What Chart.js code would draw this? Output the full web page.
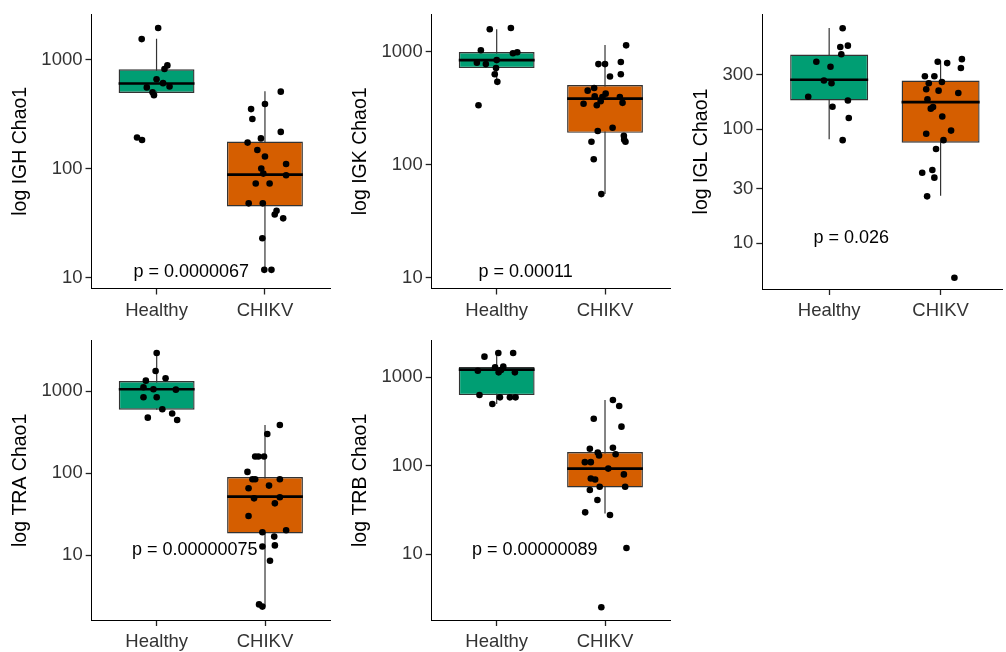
<!DOCTYPE html>
<html>
<head>
<meta charset="utf-8">
<script src="https://cdn.jsdelivr.net/npm/chart.js@4.4.1/dist/chart.umd.min.js"></script>
<style>
  html, body { margin: 0; padding: 0; background: #fff; }
  body { width: 1006px; height: 652px; position: relative; overflow: hidden; }
  canvas { position: absolute; }
</style>
</head>
<body>
<canvas id="igh" width="340" height="320" style="left:0;top:0"></canvas>
<canvas id="igk" width="340" height="320" style="left:340px;top:0"></canvas>
<canvas id="igl" width="336" height="320" style="left:670px;top:0"></canvas>
<canvas id="tra" width="340" height="332" style="left:0;top:320px"></canvas>
<canvas id="trb" width="340" height="332" style="left:340px;top:320px"></canvas>
<script>
const groups = ['Healthy', 'CHIKV'];
const groupColors = ['#009E73', '#D55E00'];

// box stats per group: [lower whisker, Q1, median, Q3, upper whisker]
// points: values + horizontal jitter (offset from the group centre, in category units)

// IGH
const ighBox = [[470, 493, 603, 812, 1549], [11.8, 45, 88, 177, 511]];
const ighHealthy = [1945, 1538, 883, 818, 659, 555, 607, 566, 500, 470, 193, 183];
const ighHealthyJit = [0.015, -0.137, 0.10, 0.073, 0, -0.09, 0.06, 0.12, -0.037, -0.024, -0.18, -0.134];
const ighChikv = [507, 391, 351, 285, 217, 189, 173, 148, 129, 110, 100, 90, 87, 73, 73, 48, 48, 41, 38, 35, 23, 11.8, 11.8];
const ighChikvJit = [0.146, 0, -0.128, -0.116, 0.146, -0.037, -0.16, -0.07, 0, 0.195, -0.034, -0.015, 0.195, -0.085, 0.043, -0.15, -0.02, 0.107, 0.09, 0.168, -0.024, -0.006, 0.06];

// IGK
const igkBox = [[543, 720, 846, 998, 1587], [55, 192, 386, 508, 1151]];
const igkHealthy = [1631, 1588, 1034, 973, 993, 801, 780, 846, 720, 634, 543, 337];
const igkHealthyJit = [0.131, -0.064, -0.146, 0.15, 0.19, -0.183, -0.1, 0, -0.006, -0.018, 0.006, -0.168];
const igkChikv = [1143, 780, 780, 813, 634, 605, 479, 454, 405, 427, 399, 399, 347, 337, 366, 354, 213, 199, 181, 167, 160, 160, 112, 55];
const igkChikvJit = [0.195, -0.061, 0, 0.146, 0.146, 0.046, -0.1, -0.16, -0.095, 0.006, -0.024, 0.137, -0.198, -0.076, -0.04, 0.162, 0.07, -0.067, 0.174, 0.177, 0.189, -0.125, -0.104, -0.034];

// IGL
const iglBox = [[81.5, 178, 270, 449, 767], [26.1, 76, 172, 266, 396]];
const iglHealthy = [762, 522, 537, 452, 388, 351, 266, 252, 192, 178, 157, 125, 80];
const iglHealthyJit = [0.121, 0.1, 0.168, 0.109, -0.115, 0.012, -0.047, 0.021, -0.188, 0.168, 0.03, 0.176, 0.121];
const iglChikv = [409, 388, 378, 342, 290, 290, 252, 258, 223, 217, 207, 182, 156, 151, 129, 97, 91, 80, 67, 41.5, 43.8, 37.6, 25.8, 5.0];
const iglChikvJit = [0.191, -0.026, 0.059, 0.182, -0.141, -0.056, -0.106, 0.012, -0.129, -0.018, 0.159, -0.118, -0.068, -0.088, 0.015, 0.094, -0.129, 0.026, -0.041, -0.165, -0.074, -0.056, -0.121, 0.124];

// TRA
const traBox = [[597, 597, 1058, 1336, 2931], [2.37, 18.5, 51.9, 90, 388]];
const traHealthy = [2931, 1770, 1349, 1442, 1119, 1057, 1048, 845, 845, 603, 477, 535, 447];
const traHealthyJit = [0, -0.01, -0.1, 0.082, -0.122, -0.03, 0.177, -0.122, 0, 0.052, -0.082, 0.143, 0.189];
const traChikv = [388, 302, 160, 160, 160, 104, 84.5, 84.5, 84.5, 65.6, 70.8, 49.5, 51, 43, 30.2, 19.1, 20.2, 16.9, 12.8, 13.2, 8.6, 2.52, 2.37];
const traChikvJit = [0.137, 0.021, -0.091, -0.061, -0.009, -0.162, -0.116, -0.091, 0.137, -0.152, 0.037, -0.101, 0.137, 0.091, -0.152, -0.024, 0.195, 0.085, -0.024, 0.091, 0.046, -0.055, -0.024];

// TRB
const trbBox = [[500, 631, 1221, 1309, 1885], [29, 57, 93, 143, 555]];
const trbHealthy = [1885, 1885, 1713, 1321, 1297, 1189, 1138, 1210, 1138, 631, 594, 594, 594, 500];
const trbHealthyJit = [0.015, 0.152, -0.113, 0.061, -0.015, -0.174, 0.018, 0.04, 0.168, -0.159, 0.03, 0.122, 0.174, -0.04];
const trbChikv = [555, 474, 341, 277, 156, 160, 141, 131, 135, 110, 110, 93, 80, 72, 70, 58, 58, 53.4, 41.1, 29.8, 27.8, 11.8, 2.52];
const trbChikvJit = [0.073, 0.131, -0.104, 0.152, -0.14, 0.073, -0.067, -0.055, 0.098, -0.186, -0.131, 0.03, 0.174, -0.131, -0.091, -0.049, 0.186, -0.14, -0.07, -0.183, 0.046, 0.198, -0.034];

const pValues = ['p = 0.0000067', 'p = 0.00011', 'p = 0.026', 'p = 0.00000075', 'p = 0.00000089'];

const FONT = '"Liberation Sans", Arial, sans-serif';
const BOX_W = 0.7;

// p value label placed in data coordinates
const pLabel = {
  id: 'pLabel',
  afterDatasetsDraw(chart, args, opts) {
    const { ctx, scales: { x, y } } = chart;
    ctx.save();
    ctx.font = '18px ' + FONT;
    ctx.fillStyle = '#000';
    ctx.textAlign = 'left';
    ctx.textBaseline = 'middle';
    ctx.fillText(opts.text, x.getPixelForValue(opts.x), y.getPixelForValue(opts.y));
    ctx.restore();
  }
};

function axisGrid() {
  return { offset: false, drawOnChartArea: false, drawTicks: true, tickLength: 6, color: '#222', tickColor: '#222', tickWidth: 1.3 };
}

function makePanel(id, p) {
  const points = [];
  p.values.forEach((vals, g) => vals.forEach((v, i) => points.push({ x: g + 1 + p.jitter[g][i], y: v })));

  const whiskers = [], medians = [], boxes = [];
  p.box.forEach((b, g) => {
    const c = g + 1;
    whiskers.push({ x: c, y: b[0] }, { x: c, y: b[4] }, { x: c, y: null });
    medians.push({ x: c - BOX_W / 2, y: b[2] }, { x: c + BOX_W / 2, y: b[2] }, { x: c, y: null });
    boxes.push({ x: c, y: [b[1], b[3]] });
  });

  new Chart(document.getElementById(id), {
    type: 'scatter',
    data: {
      datasets: [
        { type: 'scatter', data: points, order: 0, pointRadius: 3.3, pointBackgroundColor: '#000', pointBorderWidth: 0 },
        { type: 'line', data: medians, order: 1, borderColor: '#000', borderWidth: 2.6, pointRadius: 0, spanGaps: false },
        { type: 'bar', data: boxes, order: 2, backgroundColor: groupColors, borderColor: '#333', borderWidth: 1.4,
          borderSkipped: false, barPercentage: BOX_W, categoryPercentage: 1 },
        { type: 'line', data: whiskers, order: 3, borderColor: '#333', borderWidth: 1.2, pointRadius: 0, spanGaps: false }
      ]
    },
    options: {
      responsive: false,
      animation: false,
      layout: { padding: p.padding },
      plugins: {
        legend: { display: false },
        tooltip: { enabled: false },
        pLabel: { text: p.pText, x: p.pX, y: p.pY }
      },
      scales: {
        x: {
          type: 'linear', min: 0.4, max: p.xMax, offset: false,
          afterBuildTicks: s => { s.ticks = [{ value: 1 }, { value: 2 }]; },
          afterFit: s => { s.height = p.xHeight; },
          ticks: { callback: v => groups[v - 1], font: { family: FONT, size: 18.5 }, color: '#333', padding: 5, maxRotation: 0, autoSkip: false },
          grid: axisGrid(),
          border: { color: '#000' }
        },
        y: {
          type: 'logarithmic', min: p.yMin, max: p.yMax,
          afterBuildTicks: s => { s.ticks = p.yTicks.map(v => ({ value: v })); },
          afterFit: s => { s.width = p.yWidth; },
          ticks: { callback: v => String(v), font: { family: FONT, size: 18.5 }, color: '#333', padding: 3, autoSkip: false },
          grid: axisGrid(),
          border: { color: '#000' },
          title: { display: true, text: p.title, font: { family: FONT, size: 19.5 }, color: '#000', padding: { top: 9, bottom: 0 } }
        }
      }
    },
    plugins: [pLabel]
  });
}

makePanel('igh', {
  title: 'log IGH Chao1', box: ighBox, values: [ighHealthy, ighChikv], jitter: [ighHealthyJit, ighChikvJit],
  yMin: 7.96, yMax: 2606, yTicks: [10, 100, 1000], xMax: 2.6,
  padding: { top: 10, right: 10, bottom: 0, left: 0 }, yWidth: 91.5, xHeight: 31.5,
  pText: pValues[0], pX: 0.787, pY: 11.2
});
makePanel('igk', {
  title: 'log IGK Chao1', box: igkBox, values: [igkHealthy, igkChikv], jitter: [igkHealthyJit, igkChikvJit],
  yMin: 8.02, yMax: 2163, yTicks: [10, 100, 1000], xMax: 2.6,
  padding: { top: 10, right: 10, bottom: 0, left: 0 }, yWidth: 91.7, xHeight: 31.5,
  pText: pValues[1], pX: 0.832, pY: 11.2
});
makePanel('igl', {
  title: 'log IGL Chao1', box: iglBox, values: [iglHealthy, iglChikv], jitter: [iglHealthyJit, iglChikvJit],
  yMin: 3.99, yMax: 1014, yTicks: [10, 30, 100, 300], xMax: 2.551,
  padding: { top: 10, right: 0, bottom: 0, left: 11 }, yWidth: 81.3, xHeight: 31,
  pText: pValues[2], pX: 0.859, pY: 11.1
});
makePanel('tra', {
  title: 'log TRA Chao1', box: traBox, values: [traHealthy, traChikv], jitter: [traHealthyJit, traChikvJit],
  yMin: 1.626, yMax: 4140, yTicks: [10, 100, 1000], xMax: 2.6,
  padding: { top: 20.7, right: 10, bottom: 0, left: 0 }, yWidth: 91.7, xHeight: 32,
  pText: pValues[3], pX: 0.771, pY: 11.6
});
makePanel('trb', {
  title: 'log TRB Chao1', box: trbBox, values: [trbHealthy, trbChikv], jitter: [trbHealthyJit, trbChikvJit],
  yMin: 1.81, yMax: 2594, yTicks: [10, 100, 1000], xMax: 2.6,
  padding: { top: 20.7, right: 10, bottom: 0, left: 0 }, yWidth: 91.7, xHeight: 32,
  pText: pValues[4], pX: 0.771, pY: 11.2
});
</script>
</body>
</html>
